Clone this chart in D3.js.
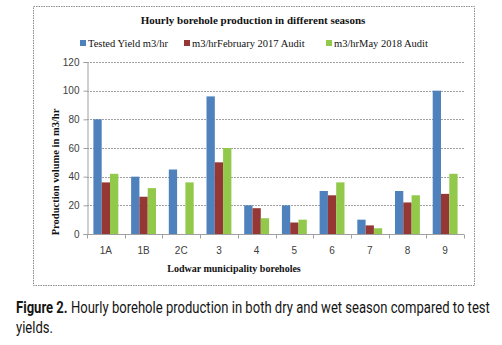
<!DOCTYPE html>
<html>
<head>
<meta charset="utf-8">
<script src="https://cdn.jsdelivr.net/npm/d3@7"></script>
<style>
  html, body { margin: 0; padding: 0; background: #fff; }
  svg { display: block; }
</style>
</head>
<body>
<svg id="chart" width="502" height="345"></svg>
<script>
// Borehole names along the x axis
const boreholes = ["1A", "1B", "2C", "3", "4", "5", "6", "7", "8", "9"];
// Hourly production (m3/hr) per borehole
const testedYield = [80, 40, 45, 96, 20, 20, 30, 10, 30, 100];
const feb2017Audit = [36, 26, 0, 50, 18, 8, 27, 6, 22, 28];
const may2018Audit = [42, 32, 36, 60, 11, 10, 36, 4, 27, 42];
const seriesNames = ["Tested Yield m3/hr", "m3/hrFebruary 2017 Audit", "m3/hrMay 2018 Audit"];
const seriesColors = ["#4f81bd", "#953735", "#92c94a"];
const yTicks = [0, 20, 40, 60, 80, 100, 120];

const svg = d3.select("#chart");
const serif = "'Liberation Serif', 'DejaVu Serif', serif";
const sans = "'Liberation Sans', Arial, sans-serif";

// Dashed chart frame
svg.append("rect")
  .attr("x", 33.5).attr("y", 6.5).attr("width", 441).attr("height", 279)
  .attr("fill", "none").attr("stroke", "#8a8a8a").attr("stroke-width", 1)
  .attr("stroke-dasharray", "1.5,1");

const plot = { left: 87, right: 464, top: 62, bottom: 234 };

const x = d3.scaleBand().domain(boreholes).range([plot.left, plot.right]).paddingInner(0.34).paddingOuter(0.17);
const xBand = d3.scaleBand().domain(boreholes).range([plot.left, plot.right]);
const y = d3.scaleLinear().domain([0, 120]).range([plot.bottom, plot.top]);
const xSub = d3.scaleBand().domain(d3.range(3)).range([0, x.bandwidth()]);

// Gridlines
svg.append("g")
  .selectAll("line").data(yTicks.filter(t => t > 0)).join("line")
  .attr("x1", plot.left).attr("x2", plot.right)
  .attr("y1", d => Math.round(y(d)) + 0.5).attr("y2", d => Math.round(y(d)) + 0.5)
  .attr("stroke", "#a0a0a0").attr("stroke-dasharray", "2,1");

// Bars
const series = [testedYield, feb2017Audit, may2018Audit];
series.forEach((vals, si) => {
  svg.append("g").selectAll("rect").data(vals).join("rect")
    .attr("x", (d, i) => x(boreholes[i]) + xSub(si))
    .attr("y", d => y(d))
    .attr("width", xSub.bandwidth())
    .attr("height", d => plot.bottom - y(d))
    .attr("fill", seriesColors[si]);
});

// Y axis
const yAxis = d3.axisLeft(y).tickValues(yTicks).tickSize(4).tickPadding(4);
const gy = svg.append("g").attr("transform", `translate(${plot.left + 0.5},0)`).call(yAxis);
gy.select(".domain").attr("stroke", "#a0a0a0");
gy.selectAll(".tick line").attr("stroke", "#a0a0a0");
gy.selectAll(".tick text").attr("font-family", sans).attr("font-size", 10).attr("fill", "#404040");

// X axis with tick marks on category boundaries
const gx = svg.append("g").attr("transform", `translate(0,${plot.bottom + 0.5})`);
gx.append("line").attr("x1", plot.left).attr("x2", plot.right).attr("stroke", "#a0a0a0");
const bounds = boreholes.map(b => xBand(b)).concat([plot.right]);
gx.selectAll("line.tk").data(bounds).join("line").attr("class", "tk")
  .attr("x1", d => Math.round(d) + 0.5).attr("x2", d => Math.round(d) + 0.5)
  .attr("y1", 0).attr("y2", 4).attr("stroke", "#a0a0a0");
gx.selectAll("text").data(boreholes).join("text")
  .attr("x", d => xBand(d) + xBand.bandwidth() / 2)
  .attr("y", 19)
  .attr("text-anchor", "middle")
  .attr("font-family", sans).attr("font-size", 10).attr("fill", "#404040")
  .text(d => d);

// Titles
svg.append("text").attr("x", 253).attr("y", 24).attr("text-anchor", "middle")
  .attr("font-family", serif).attr("font-size", 11).attr("font-weight", "bold").attr("fill", "#111")
  .text("Hourly borehole production in different seasons");

svg.append("text").attr("x", 234).attr("y", 272).attr("text-anchor", "middle")
  .attr("font-family", serif).attr("font-size", 10).attr("font-weight", "bold").attr("fill", "#111")
  .text("Lodwar municipality boreholes");

svg.append("text").attr("transform", "translate(59,172) rotate(-90)").attr("text-anchor", "middle")
  .attr("font-family", serif).attr("font-size", 10.5).attr("font-weight", "bold").attr("fill", "#111")
  .text("Production volume in m3/hr");

// Legend
const legendX = [80, 184, 326];
const legend = svg.append("g");
seriesNames.forEach((name, i) => {
  legend.append("rect").attr("x", legendX[i]).attr("y", 40).attr("width", 6).attr("height", 6)
    .attr("fill", seriesColors[i]);
  legend.append("text").attr("x", legendX[i] + 8).attr("y", 46.5)
    .attr("font-family", serif).attr("font-size", 10.5).attr("fill", "#111")
    .text(name);
});

// Figure caption, horizontally condensed to fit the column
const capFont = "Roboto, 'Liberation Sans', sans-serif";
const capG = svg.append("g");
const cap1 = capG.append("text").attr("x", 0).attr("y", 313)
  .attr("font-family", capFont).attr("font-size", 17).attr("fill", "#151515");
cap1.append("tspan").attr("font-weight", "bold").text("Figure 2.");
cap1.append("tspan").text(" Hourly borehole production in both dry and wet season compared to test");
capG.append("text").attr("x", 0).attr("y", 333)
  .attr("font-family", capFont).attr("font-size", 17).attr("fill", "#151515")
  .text("yields.");
const natural = cap1.node().getComputedTextLength();
capG.attr("transform", `translate(16,0) scale(${474 / natural},1)`);
</script>
</body>
</html>
